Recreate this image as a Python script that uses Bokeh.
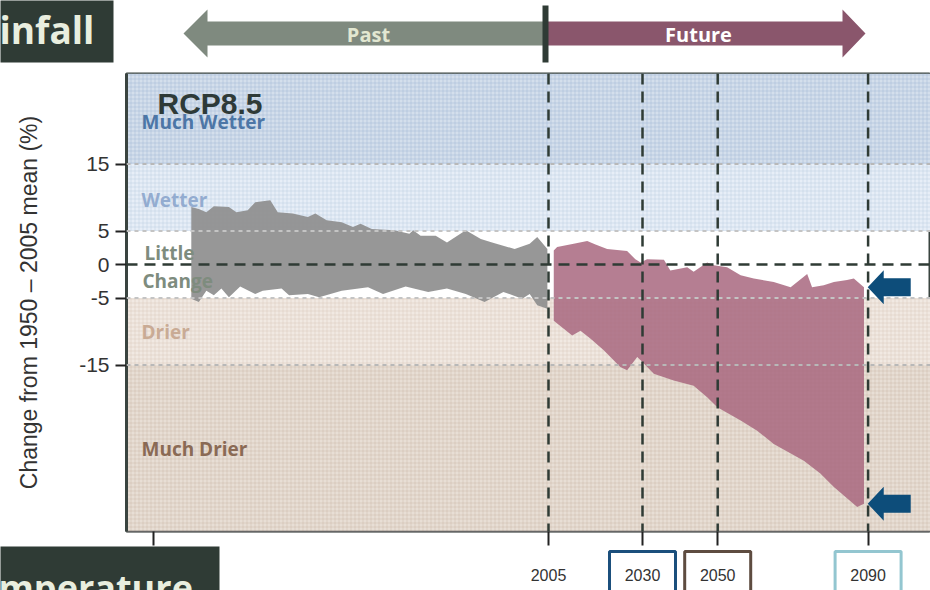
from bokeh.plotting import figure
from bokeh.models import BoxAnnotation, Span, Label, FixedTicker, Range1d
from bokeh.core.properties import value
from bokeh.embed import file_html
from bokeh.resources import INLINE

# ---------------- data ----------------
past_up_years = [1910, 1912, 1914, 1916, 1920, 1922, 1925, 1927, 1931, 1933, 1937, 1941, 1943,
                 1946, 1950, 1953, 1955, 1958, 1964, 1968, 1969, 1971, 1975, 1978, 1983, 1987,
                 1990, 1996, 2000, 2002, 2004.7]
past_up = [8.6, 8.3, 7.8, 8.7, 8.6, 7.8, 8.1, 9.3, 9.6, 7.8, 7.6, 7.1, 7.6,
           6.6, 6.3, 5.6, 6.1, 5.3, 5.1, 4.6, 5.1, 4.3, 4.3, 3.3, 5.1, 3.8,
           3.3, 2.3, 3.1, 4.1, 2.3]
past_lo_years = [1910, 1912, 1914, 1916, 1918, 1920, 1923, 1927, 1929, 1934, 1936, 1941, 1944,
                 1950, 1957, 1961, 1967, 1973, 1978, 1983, 1988, 1993, 1998, 2000, 2002, 2004.7]
past_lo = [-5.1, -5.6, -3.9, -4.6, -3.6, -4.9, -3.3, -4.4, -3.9, -3.6, -4.6, -4.4, -4.9,
           -3.9, -3.4, -4.4, -3.3, -4.1, -3.6, -4.4, -5.6, -4.1, -5.1, -4.4, -6.1, -6.6]

fut_up_years = [2006.4, 2007.3, 2011.7, 2015.3, 2017.5, 2020.6, 2025.9, 2028.1, 2029.5, 2031.2,
                2035.7, 2037.4, 2041.9, 2043.6, 2047.2, 2049, 2052.5, 2056.1, 2059.6, 2064.9,
                2069.4, 2073.8, 2075.1, 2078.2, 2080.9, 2084.4, 2086.2, 2088.9]
fut_up = [2.1, 2.6, 3.1, 3.5, 3.0, 2.3, 2.0, 0.8, 0.3, 0.8,
          0.7, -0.9, -0.4, -1.1, 0.3, -0.1, -0.4, -1.6, -2.1, -2.6,
          -3.4, -1.4, -3.4, -3.1, -2.6, -2.3, -2.1, -3.4]
fut_lo_years = [2006.4, 2011.3, 2013.5, 2016.2, 2019.7, 2024.1, 2025.9, 2028.6, 2029.5, 2033,
                2038.3, 2043.6, 2047.2, 2049.9, 2056.1, 2060.5, 2064.9, 2072.9, 2077.3, 2080.9,
                2087.1, 2088.9]
fut_lo = [-8.4, -10.6, -9.9, -11.1, -12.8, -15.3, -15.8, -13.8, -14.3, -16.3,
          -17.3, -18.1, -19.8, -21.3, -23.3, -24.8, -26.8, -29.3, -31.2, -33.2,
          -36.2, -35.7]

y_ticks = [15, 5, 0, -5, -15]
y_tick_labels = ["15", "5", "0", "-5", "-15"]
x_ticks = [1900, 2005, 2030, 2050, 2090]
x_tick_labels = ["", "2005", "2030", "2050", "2090"]
boxed_years = [2030, 2050, 2090]
boxed_colors = ["#1b4f7c", "#5e4c40", "#93c6d0"]

band_bottoms = [15, 5, -15, None]
band_tops = [None, 15, -5, -15]
band_fills = ["#d4dfec", "#e7eef7", "#f1e9e2", "#e8ded5"]
band_hatch = ["#9fb4d3", "#b9cae2", "#d8c7ba", "#cbb7a7"]
band_names = ["Much Wetter", "Wetter", "Drier", "Much Drier"]
band_name_colors = ["#4d76a6", "#93acd0", "#c9ab95", "#8a6a55"]
band_name_y = [21.2, 9.7, -10.1, -27.6]
band_lines = [15, 5, -5, -15]
period_lines = [2005, 2030, 2050, 2090]

# ---------------- geometry ----------------
PX_PER_YEAR = 3.76
PX_PER_UNIT = 6.7
W, H = 930, 590
ML, MT, MB = 126, 73, 59


def gx(px):  # canvas pixel -> data x
    return 2005 + (px - 548) / PX_PER_YEAR


def gy(py):  # canvas pixel -> data y
    return (264 - py) / PX_PER_UNIT


p = figure(width=W, height=H, output_backend="svg", toolbar_location=None,
           x_range=Range1d(gx(ML), gx(W)), y_range=Range1d(gy(H - MB), gy(MT)),
           min_border_left=ML, min_border_top=MT, min_border_bottom=MB, min_border_right=0)
p.grid.visible = False
p.background_fill_color = "white"
p.outline_line_color = "#3a4440"
p.outline_line_width = 2

# background bands
for b, t, fc, hc in zip(band_bottoms, band_tops, band_fills, band_hatch):
    kw = {}
    if b is not None:
        kw["bottom"] = b
    if t is not None:
        kw["top"] = t
    p.add_layout(BoxAnnotation(fill_color=fc, fill_alpha=1, hatch_pattern="+", hatch_color=hc,
                               hatch_alpha=0.45, hatch_scale=4, hatch_weight=1,
                               line_alpha=0, level="underlay", **kw))

# envelopes
p.patch(past_up_years + past_lo_years[::-1], past_up + past_lo[::-1],
        fill_color="#8e8e8e", fill_alpha=0.92, line_alpha=0)
p.patch(fut_up_years + fut_lo_years[::-1], fut_up + fut_lo[::-1],
        fill_color="#a8677f", fill_alpha=0.85, line_alpha=0)

# band boundary dotted lines
for v in band_lines:
    p.add_layout(Span(location=v, dimension="width",
                      line_color="#c4c4c4" if abs(v) == 5 else "#b8b8b8",
                      line_width=2, line_dash="4 4"))
# dashed reference lines
p.add_layout(Span(location=0, dimension="width", line_color="#2f3b35", line_width=2.5,
                  line_dash="11 7"))
for v in period_lines:
    p.add_layout(Span(location=v, dimension="height", line_color="#2f3b35", line_width=2.5,
                      line_dash="11 7"))

# band labels
FONT_B = "Open Sans"
for lab, lc, ly in zip(band_names, band_name_colors, band_name_y):
    p.add_layout(Label(x=gx(141), y=ly, text=lab, text_font=FONT_B, text_font_style="bold",
                       text_font_size="19px", text_color=lc, text_baseline="middle"))
p.add_layout(Label(x=gx(144), y=gy(252), text="Little", text_font=FONT_B, text_font_style="bold",
                   text_font_size="19px", text_color="#7e8c7e", text_baseline="middle"))
p.add_layout(Label(x=gx(142), y=gy(280), text="Change", text_font=FONT_B, text_font_style="bold",
                   text_font_size="19px", text_color="#7e8c7e", text_baseline="middle"))
p.add_layout(Label(x=gx(157), y=gy(103), text="RCP8.5", text_font="Liberation Sans",
                   text_font_style="bold", text_font_size="30px", text_color="#2e3a38",
                   text_baseline="middle"))

# blue arrows pointing at the end values
tx = fut_up_years[-1] + 1.0
hl, bl = 16 / PX_PER_YEAR, 43 / PX_PER_YEAR
hh, bh = 17 / PX_PER_UNIT, 9 / PX_PER_UNIT
for v in (fut_up[-1], fut_lo[-1]):
    p.patch([tx, tx + hl, tx + hl, tx + bl, tx + bl, tx + hl, tx + hl],
            [v, v + hh, v + bh, v + bh, v - bh, v - bh, v - hh],
            fill_color="#0d4d7a", line_alpha=0, level="overlay")

# header: Past / Future arrows (outside the frame -> overlay level)
p.patch([gx(183), gx(207), gx(207), gx(543), gx(543), gx(207), gx(207)],
        [gy(33), gy(9), gy(21), gy(21), gy(45), gy(45), gy(57)],
        fill_color="#7f8a7f", line_alpha=0, level="overlay")
p.patch([gx(865), gx(842), gx(842), gx(547), gx(547), gx(842), gx(842)],
        [gy(33), gy(9), gy(21), gy(21), gy(45), gy(45), gy(57)],
        fill_color="#8a566c", line_alpha=0, level="overlay")
p.quad(left=[gx(542)], right=[gx(548)], top=[gy(5)], bottom=[gy(62)],
       fill_color="#2f3b35", line_alpha=0, level="overlay")
p.text(x=[gx(368), gx(698)], y=[gy(34), gy(34)], text=["Past", "Future"],
       text_color=["#e2e7d1", "#ffffff"], text_font=value(FONT_B), text_font_style="bold",
       text_font_size="20px", text_align="center", text_baseline="middle", level="overlay")

# slide title boxes
p.quad(left=[gx(0), gx(0)], right=[gx(113), gx(219)], top=[gy(0), gy(546)],
       bottom=[gy(62), gy(600)], fill_color="#2f3b35", line_alpha=0, level="overlay")
p.text(x=[gx(-1)], y=[gy(29)], text=["infall"], text_color="#e9eedf",
       text_font=value(FONT_B), text_font_style="bold", text_font_size="37px",
       text_baseline="middle", level="overlay")
p.text(x=[gx(-2)], y=[gy(587)], text=["mperature"], text_color="#e9eedf",
       text_font=value(FONT_B), text_font_style="bold", text_font_size="36px",
       text_baseline="alphabetic", level="overlay")

# boxed tick labels
for yr, col in zip(boxed_years, boxed_colors):
    p.quad(left=[yr - 33 / PX_PER_YEAR], right=[yr + 33 / PX_PER_YEAR],
           top=[gy(551)], bottom=[gy(600)], fill_alpha=0, line_color=col, line_width=3,
           level="overlay")

# axes
p.yaxis.ticker = FixedTicker(ticks=y_ticks)
p.yaxis.major_label_overrides = dict(zip(y_ticks, y_tick_labels))
p.yaxis.axis_label = "Change from 1950 \u2013 2005 mean (%)"
p.yaxis.axis_label_text_font = "Liberation Sans"
p.yaxis.axis_label_text_font_style = "normal"
p.yaxis.axis_label_text_font_size = "23px"
p.yaxis.axis_label_text_color = "#333333"
p.yaxis.axis_label_standoff = 34
p.yaxis.major_label_text_font = "Liberation Sans"
p.yaxis.major_label_text_font_size = "21px"
p.yaxis.major_label_text_color = "#333333"
p.yaxis.major_label_standoff = 6
p.yaxis.major_tick_out = 11
p.yaxis.major_tick_in = 0
p.yaxis.major_tick_line_width = 2
p.yaxis.major_tick_line_color = "#222222"
p.yaxis.minor_tick_line_color = None
p.yaxis.axis_line_color = "#3a4440"
p.yaxis.axis_line_width = 3

p.xaxis.ticker = FixedTicker(ticks=x_ticks)
p.xaxis.major_label_overrides = dict(zip(x_ticks, x_tick_labels))
p.xaxis.major_label_text_font = "Liberation Sans Narrow, Liberation Sans"
p.xaxis.major_label_text_font_size = "16px"
p.xaxis.major_label_text_color = "#333333"
p.xaxis.major_label_standoff = 23
p.xaxis.major_tick_out = 14
p.xaxis.major_tick_in = 0
p.xaxis.major_tick_line_width = 2
p.xaxis.major_tick_line_color = "#222222"
p.xaxis.minor_tick_line_color = None
p.xaxis.axis_line_color = "#666666"
p.xaxis.axis_line_width = 1.5

open("out.html", "w").write(file_html(p, INLINE))
